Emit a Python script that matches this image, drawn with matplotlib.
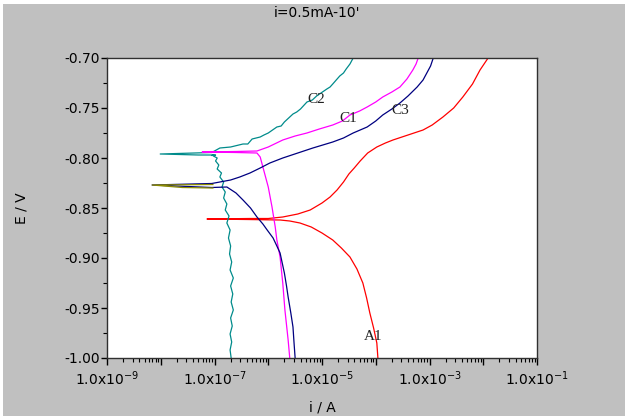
import math

import matplotlib
matplotlib.use("Agg")
import matplotlib.pyplot as plt
from matplotlib.patches import Rectangle
from matplotlib.ticker import FixedLocator, FuncFormatter, LogLocator, NullFormatter, MultipleLocator

plt.rcParams["font.family"] = ["DejaVu Sans"]
plt.rcParams["mathtext.default"] = "regular"

# curves: log10(i / A) and E / V
# each runs from -1.00 V up the cathodic branch, out to the spike at Ecorr, then up the anodic branch
a1_logi = [-3.96, -3.98, -4.04, -4.11, -4.17, -4.24, -4.35, -4.48, -4.64, -4.80, -5.00, -5.20, -5.41,
           -5.60, -5.78, -6.40,
           -7.14,
           -6.34, -6.00, -5.73, -5.45, -5.22, -5.00, -4.85, -4.72, -4.60, -4.50, -4.40, -4.29, -4.15,
           -3.98, -3.82, -3.68, -3.40, -3.12, -2.95, -2.75, -2.55, -2.38, -2.20, -2.06, -1.91]
a1_e = [-1.000, -0.985, -0.970, -0.955, -0.940, -0.925, -0.911, -0.899, -0.890, -0.882, -0.875, -0.869, -0.865,
        -0.863, -0.862, -0.8615,
        -0.861,
        -0.8605, -0.8605, -0.859, -0.856, -0.852, -0.845, -0.839, -0.832, -0.824, -0.816, -0.810, -0.803, -0.795,
        -0.789, -0.785, -0.782, -0.777, -0.772, -0.767, -0.759, -0.750, -0.739, -0.726, -0.712, -0.700]

c1_logi = [-5.60, -5.63, -5.69, -5.73, -5.78, -5.84, -5.87, -5.93, -6.00, -6.10, -6.15, -6.21, -6.60,
           -7.23,
           -6.60, -6.21, -6.00, -5.73, -5.50, -5.28, -5.05, -4.80, -4.62, -4.48, -4.30, -4.16, -4.00,
           -3.87, -3.70, -3.55, -3.42, -3.31, -3.25, -3.21]
c1_e = [-1.000, -0.982, -0.952, -0.925, -0.899, -0.882, -0.869, -0.849, -0.829, -0.809, -0.799, -0.795, -0.7945,
        -0.794,
        -0.7935, -0.793, -0.789, -0.782, -0.778, -0.775, -0.771, -0.767, -0.763, -0.757, -0.753, -0.749, -0.744,
        -0.739, -0.734, -0.729, -0.721, -0.712, -0.706, -0.700]

c2_logi = [-6.69, -6.71, -6.68, -6.71, -6.67, -6.70, -6.65, -6.69, -6.66, -6.70, -6.65, -6.71, -6.68,
           -6.72, -6.70, -6.74, -6.71, -6.77, -6.73, -6.80, -6.77, -6.83, -6.80, -6.86, -6.83, -6.90,
           -6.87, -6.95, -6.92, -6.98, -6.95, -7.02, -6.98, -7.05, -7.01, -7.06, -7.30,
           -8.01,
           -7.05, -6.90, -6.70, -6.47, -6.38, -6.30, -6.15, -6.08, -6.00, -5.84, -5.76, -5.70, -5.54,
           -5.47, -5.40, -5.28, -5.18, -5.10, -4.91, -4.85, -4.80, -4.67, -4.60, -4.55, -4.48, -4.42]
c2_e = [-1.000, -0.992, -0.984, -0.976, -0.968, -0.960, -0.952, -0.944, -0.936, -0.928, -0.920, -0.912, -0.904,
        -0.896, -0.888, -0.880, -0.872, -0.865, -0.858, -0.852, -0.846, -0.840, -0.834, -0.829, -0.824, -0.819,
        -0.815, -0.811, -0.807, -0.803, -0.800, -0.798, -0.797, -0.7975, -0.797, -0.797, -0.797,
        -0.796,
        -0.7945, -0.790, -0.789, -0.786, -0.786, -0.781, -0.779, -0.777, -0.775, -0.769, -0.768, -0.764, -0.756,
        -0.754, -0.751, -0.744, -0.742, -0.738, -0.731, -0.729, -0.726, -0.718, -0.715, -0.711, -0.706, -0.700]

c3_logi = [-5.50, -5.52, -5.54, -5.58, -5.63, -5.66, -5.70, -5.74, -5.78, -5.84, -5.91, -6.02, -6.10, -6.21,
           -6.33, -6.47, -6.60, -6.77, -7.05,
           -8.16,
           -7.05, -6.90, -6.70, -6.53, -6.34, -6.15, -5.97, -5.73, -5.45, -5.17, -4.80, -4.60, -4.42, -4.16,
           -4.00, -3.87, -3.70, -3.55, -3.40, -3.23, -3.12, -3.05, -2.98, -2.93]
c3_e = [-1.000, -0.985, -0.969, -0.955, -0.939, -0.928, -0.915, -0.905, -0.895, -0.888, -0.880, -0.872, -0.866,
        -0.859, -0.850, -0.842, -0.835, -0.829, -0.8295,
        -0.827,
        -0.8255, -0.824, -0.822, -0.819, -0.815, -0.810, -0.805, -0.800, -0.795, -0.790, -0.784, -0.780, -0.775,
        -0.769, -0.763, -0.757, -0.751, -0.745, -0.738, -0.729, -0.722, -0.715, -0.708, -0.700]

# olive trace seen over the C3 spike
spike_logi = [-7.03, -8.16, -7.60, -7.03]
spike_e = [-0.8265, -0.827, -0.8295, -0.830]

labels = ["A1", "C1", "C2", "C3"]
label_logi = [-4.05, -4.52, -5.11, -3.55]
label_e = [-0.979, -0.761, -0.742, -0.753]


def decade_label(v, pos):
    k = round(math.log10(v))
    return "1.0x10$^{%d}$" % k if k % 2 else ""


def main() -> None:
    fig = plt.figure(figsize=(6.25, 4.16), dpi=100, facecolor="#c0c0c0")
    fig.patches.append(Rectangle((0, 412 / 416), 1, 4 / 416, transform=fig.transFigure,
                                 facecolor="white", edgecolor="none"))
    fig.patches.append(Rectangle((0, 0), 3 / 625, 1, transform=fig.transFigure,
                                 facecolor="white", edgecolor="none"))

    ax = fig.add_axes([107 / 625, 58 / 416, 430 / 625, 300 / 416])
    ax.set_facecolor("white")

    lw = 0.9
    ax.plot([10 ** v for v in a1_logi], a1_e, color="#ff0000", lw=lw)
    ax.plot([10 ** v for v in c2_logi], c2_e, color="#008b8b", lw=lw)
    ax.plot([10 ** v for v in c1_logi], c1_e, color="#ff00ff", lw=lw)
    ax.plot([10 ** v for v in c3_logi], c3_e, color="#000080", lw=lw)
    ax.plot([10 ** v for v in spike_logi], spike_e, color="#8b8b00", lw=lw)

    for name, x, y in zip(labels, label_logi, label_e):
        ax.text(10 ** x, y, name, family="Liberation Serif", fontsize=11,
                ha="center", va="center", color="#202020")

    ax.set_xscale("log")
    ax.set_xlim(1e-9, 1e-1)
    ax.set_ylim(-1.0, -0.7)

    ax.xaxis.set_major_locator(FixedLocator([10.0 ** k for k in range(-9, 0)]))
    ax.xaxis.set_major_formatter(FuncFormatter(decade_label))
    ax.xaxis.set_minor_locator(LogLocator(base=10, subs=range(2, 10), numticks=20))
    ax.xaxis.set_minor_formatter(NullFormatter())
    ax.yaxis.set_major_locator(MultipleLocator(0.05))
    ax.yaxis.set_minor_locator(MultipleLocator(0.025))
    ax.yaxis.set_major_formatter(FuncFormatter(lambda v, pos: "%.2f" % v))

    ax.tick_params(which="major", direction="out", length=5, width=1, labelsize=10, colors="black")
    ax.tick_params(which="minor", direction="out", length=3, width=0.8)
    ax.tick_params(axis="y", which="major", length=4, pad=1)
    ax.tick_params(top=False, right=False)
    for s in ax.spines.values():
        s.set_linewidth(1)
        s.set_color("#303030")

    ax.set_xlabel("i / A", fontsize=10, labelpad=9)
    ax.set_ylabel("E / V", fontsize=10, labelpad=26)
    fig.text(317 / 625, 1 - 13 / 416, "i=0.5mA-10'", ha="center", va="center", fontsize=10)

    fig.savefig("out.png", dpi=100, facecolor=fig.get_facecolor())


if __name__ == "__main__":
    main()
